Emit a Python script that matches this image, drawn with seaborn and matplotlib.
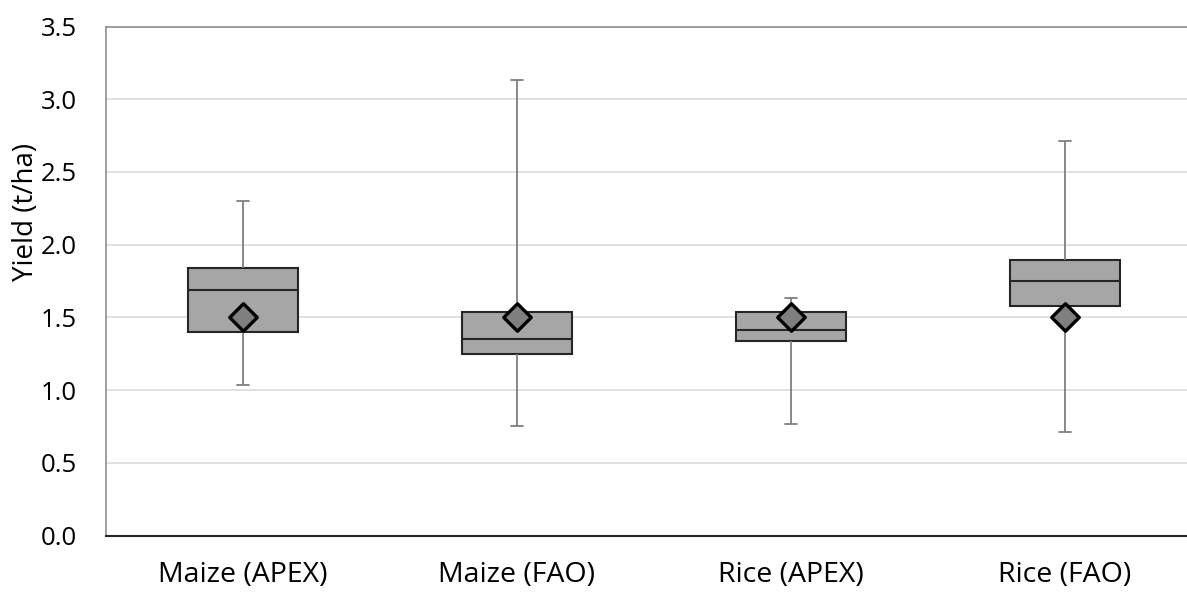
import numpy as np
import pandas as pd
import seaborn as sns
import matplotlib.pyplot as plt

# five-number summaries (t/ha)
crops = ["Maize (APEX)", "Maize (FAO)", "Rice (APEX)", "Rice (FAO)"]
lows = [1.035, 0.75, 0.77, 0.715]
q1s = [1.40, 1.25, 1.335, 1.575]
medians = [1.69, 1.35, 1.415, 1.75]
q3s = [1.84, 1.535, 1.535, 1.895]
highs = [2.30, 3.13, 1.635, 2.715]
means = [1.50, 1.50, 1.50, 1.50]

# long table: 5 values per crop give exactly these quartiles
rows = []
for i, crop in enumerate(crops):
    for v in (lows[i], q1s[i], medians[i], q3s[i], highs[i]):
        rows.append({"crop": crop, "yield": v})
df = pd.DataFrame(rows)
df_mean = pd.DataFrame({"crop": crops, "yield": means})

sns.set_style("white")
plt.rcParams["font.family"] = ["Open Sans", "DejaVu Sans"]
plt.rcParams["text.color"] = "black"
plt.rcParams["xtick.color"] = "black"
plt.rcParams["ytick.color"] = "black"

fig = plt.figure(figsize=(11.87, 5.92), dpi=100)
ax = fig.add_axes([106 / 1187, 56.5 / 592, 1096 / 1187, 509 / 592])

sns.boxplot(data=df, x="crop", y="yield", order=crops, whis=(0, 100),
            width=0.4, color="#a6a6a6", saturation=1, linecolor="#262626",
            linewidth=1.5, capwidths=0.047, ax=ax,
            boxprops=dict(facecolor="#a6a6a6", edgecolor="#262626"),
            whiskerprops=dict(color="#7f7f7f", linewidth=1.3),
            capprops=dict(color="#7f7f7f", linewidth=1.3),
            medianprops=dict(color="#262626", linewidth=1.5))
sns.stripplot(data=df_mean, x="crop", y="yield", order=crops, jitter=False,
              marker="D", size=14, color="#7f7f7f", edgecolor="black",
              linewidth=2.4, ax=ax, zorder=5)

ax.set_xlim(-0.5, 3.5)
ax.set_ylim(0, 3.5)
ax.set_yticks(np.arange(0, 3.51, 0.5))
ax.set_yticklabels([f"{t:.1f}" for t in np.arange(0, 3.51, 0.5)])
ax.yaxis.grid(True, color="#d9d9d9", linewidth=1.1)
ax.set_axisbelow(True)
ax.tick_params(axis="y", length=0, pad=21, labelsize=18.5)
ax.tick_params(axis="x", length=0, pad=18, labelsize=20.5)
ax.set_xlabel("")
ax.set_ylabel("Yield (t/ha)", fontsize=20, color="black")
ax.yaxis.set_label_coords(-0.06, 0.636)

for side in ["top", "left", "right"]:
    ax.spines[side].set_color("#868686")
    ax.spines[side].set_linewidth(1.1)
ax.spines["bottom"].set_color("#262626")
ax.spines["bottom"].set_linewidth(1.5)

fig.savefig("out.png", dpi=100)
